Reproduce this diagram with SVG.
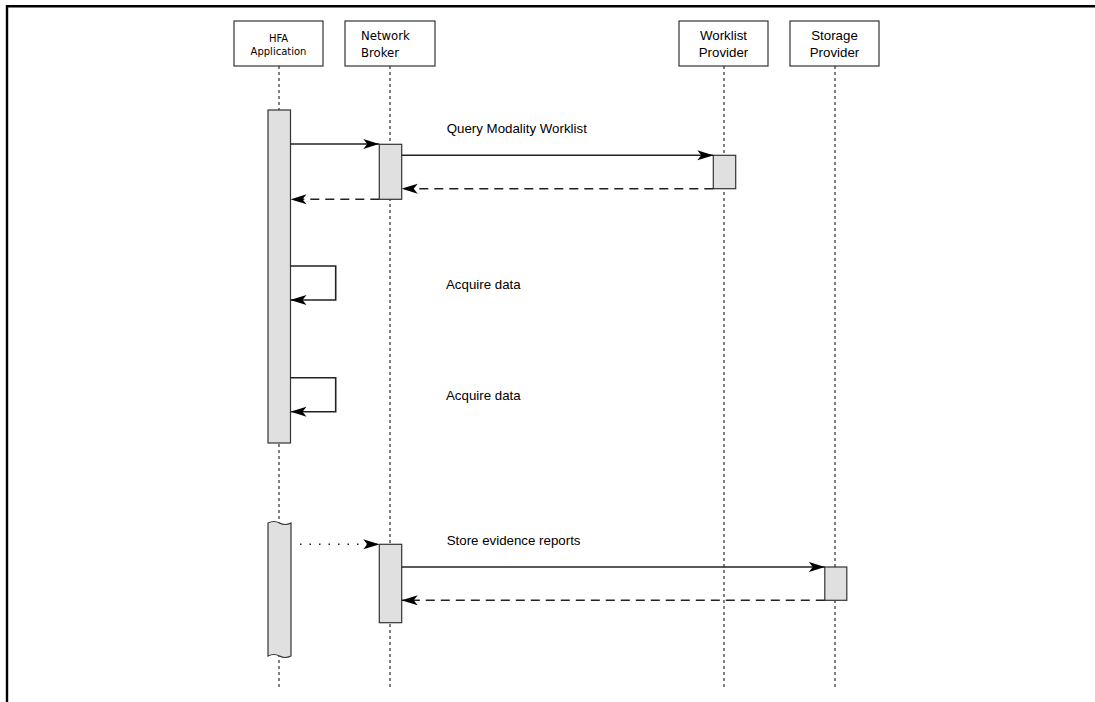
<svg xmlns="http://www.w3.org/2000/svg" width="1095" height="702" viewBox="0 0 1095 702">
<style>
.hdr{fill:#fff;stroke:#333;stroke-width:1.2}
.life{stroke:#000;stroke-width:1;stroke-dasharray:3,3;fill:none}
.act{fill:#e0e0e0;stroke:#333;stroke-width:1.2}
.msg{stroke:#222;stroke-width:1.6;fill:none}
.ret{stroke:#222;stroke-width:1.6;fill:none;stroke-dasharray:9,6}
.dot{stroke:#222;stroke-width:1.6;fill:none;stroke-dasharray:1.5,8}
.t{font-family:"Liberation Sans",Arial,sans-serif;font-size:13.3px;fill:#000}
.tv{font-family:"DejaVu Sans",Verdana,sans-serif;fill:#000}
</style>
<defs>
<marker id="ah" markerWidth="16" markerHeight="12" refX="16" refY="6" orient="auto" markerUnits="userSpaceOnUse">
<path d="M0,1 L16,6 L0,11 L4,6 Z" fill="#000"/>
</marker>
</defs>
<rect width="1095" height="702" fill="#fff"/>
<path d="M7,702 V6.3 H1095" fill="none" stroke="#000" stroke-width="2.4"/>

<g id="lifelines">
<line class="life" x1="279" y1="66" x2="279" y2="690"/>
<line class="life" x1="390" y1="66" x2="390" y2="690"/>
<line class="life" x1="724" y1="66" x2="724" y2="690"/>
<line class="life" x1="835" y1="66" x2="835" y2="690"/>
</g>

<g id="hfa">
<rect class="hdr" x="234" y="21" width="89" height="45"/>
<text class="tv" font-size="10" x="278.5" y="42" text-anchor="middle">HFA</text>
<text class="tv" font-size="10" x="278.5" y="55" text-anchor="middle">Application</text>
</g>
<g id="broker">
<rect class="hdr" x="345" y="21" width="90" height="45"/>
<text class="tv" font-size="11.7" x="361" y="40">Network</text>
<text class="tv" font-size="11.7" x="361" y="57">Broker</text>
</g>
<g id="worklist">
<rect class="hdr" x="679" y="21" width="89" height="45"/>
<text class="t" x="723.5" y="40" text-anchor="middle">Worklist</text>
<text class="t" x="723.5" y="57" text-anchor="middle">Provider</text>
</g>
<g id="storage">
<rect class="hdr" x="790" y="21" width="89" height="45"/>
<text class="t" x="834.5" y="40" text-anchor="middle">Storage</text>
<text class="t" x="834.5" y="57" text-anchor="middle">Provider</text>
</g>

<g id="activations">
<rect class="act" x="268" y="110" width="22.5" height="333"/>
<rect class="act" x="379.3" y="144.3" width="22.4" height="55"/>
<rect class="act" x="713.3" y="155.3" width="22.4" height="33.4"/>
<path class="act" d="M268,523 q6,-3 11.5,0 t11.5,0 V656 q-6,3 -11.5,0 t-11.5,0 Z"/>
<rect class="act" x="379.3" y="544.3" width="22.4" height="78.4"/>
<rect class="act" x="824.8" y="567" width="22" height="33.3"/>
</g>

<g id="connectors">
<line class="msg" x1="290.5" y1="144" x2="379.3" y2="144" marker-end="url(#ah)"/>
<line class="msg" x1="401.7" y1="155.3" x2="713.3" y2="155.3" marker-end="url(#ah)"/>
<line class="ret" x1="713.3" y1="188.7" x2="401.7" y2="188.7" marker-end="url(#ah)"/>
<line class="ret" x1="379.3" y1="199.3" x2="290.5" y2="199.3" marker-end="url(#ah)"/>
<path class="msg" d="M290.5,266 H335.7 V300 H290.5" marker-end="url(#ah)"/>
<path class="msg" d="M290.5,377.7 H335.7 V411.7 H290.5" marker-end="url(#ah)"/>
<line class="dot" x1="300" y1="544.3" x2="379.3" y2="544.3" marker-end="url(#ah)"/>
<line class="msg" x1="401.7" y1="567" x2="824.8" y2="567" marker-end="url(#ah)"/>
<line class="ret" x1="824.8" y1="600.3" x2="401.7" y2="600.3" marker-end="url(#ah)"/>
</g>

<g id="labels">
<text class="t" x="446.7" y="133">Query Modality Worklist</text>
<text class="t" x="446" y="289">Acquire data</text>
<text class="t" x="446" y="400">Acquire data</text>
<text class="t" x="446.7" y="545">Store evidence reports</text>
</g>
</svg>
